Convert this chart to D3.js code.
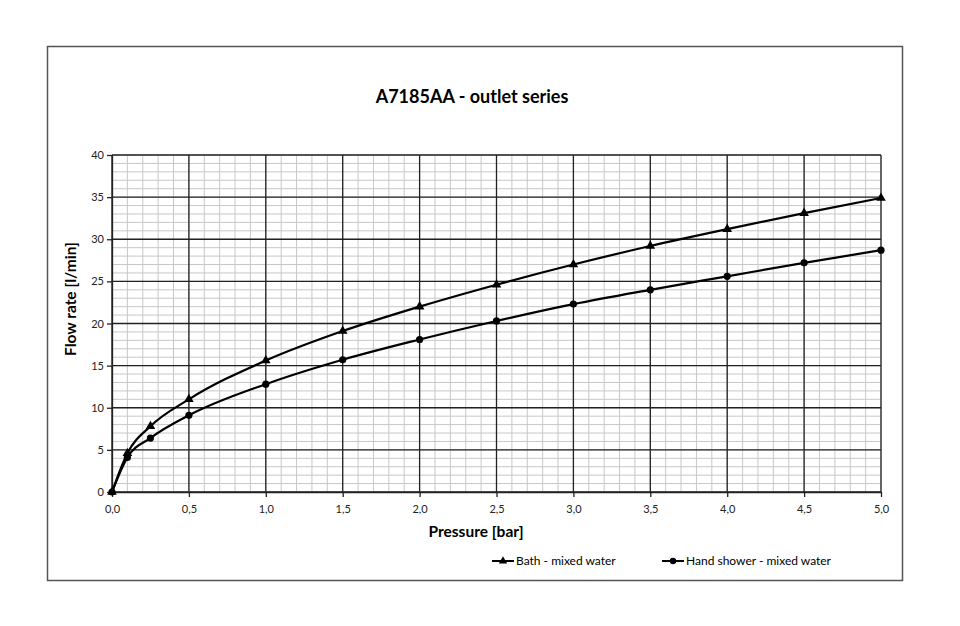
<!DOCTYPE html>
<html>
<head>
<meta charset="utf-8">
<script src="https://cdn.jsdelivr.net/npm/d3@7"></script>
<style>
  body { margin: 0; background: #fff; }
  svg { font-family: Lato, "Open Sans", sans-serif; }
</style>
</head>
<body>
<script>
// pressure points [bar]
var pressure = [0, 0.1, 0.25, 0.5, 1.0, 1.5, 2.0, 2.5, 3.0, 3.5, 4.0, 4.5, 5.0];
// flow rate [l/min]
var bathFlow = [0, 4.6, 7.8, 11.0, 15.6, 19.1, 22.0, 24.6, 27.0, 29.2, 31.2, 33.1, 34.9];
var showerFlow = [0, 4.1, 6.4, 9.1, 12.8, 15.7, 18.1, 20.3, 22.3, 24.0, 25.6, 27.2, 28.7];
var seriesNames = ["Bath - mixed water", "Hand shower - mixed water"];
var xTicks = [0, 0.5, 1.0, 1.5, 2.0, 2.5, 3.0, 3.5, 4.0, 4.5, 5.0];
var yTicks = [0, 5, 10, 15, 20, 25, 30, 35, 40];

var width = 960, height = 626;
var svg = d3.select("body").append("svg")
    .attr("width", width)
    .attr("height", height);

// outer frame
svg.append("rect")
    .attr("x", 47.5).attr("y", 46.5)
    .attr("width", 855).attr("height", 534)
    .attr("fill", "#fff")
    .attr("stroke", "#555")
    .attr("stroke-width", 1.5);

// title
svg.append("text")
    .attr("x", 472).attr("y", 103)
    .attr("text-anchor", "middle")
    .style("font-size", "18px")
    .style("font-weight", "bold")
    .text("A7185AA - outlet series");

var x = d3.scaleLinear().domain([0, 5]).range([112, 881]);
var y = d3.scaleLinear().domain([0, 40]).range([492, 155]);

// minor grid
var minorX = d3.range(0, 51).map(function(i) { return i / 10; });
var minorY = d3.range(0, 41);

svg.append("g").selectAll("line")
    .data(minorX)
    .enter().append("line")
    .attr("x1", function(d) { return x(d); })
    .attr("x2", function(d) { return x(d); })
    .attr("y1", y(0)).attr("y2", y(40))
    .attr("stroke", "#c8c8c8")
    .attr("stroke-width", 1);

svg.append("g").selectAll("line")
    .data(minorY)
    .enter().append("line")
    .attr("y1", function(d) { return y(d); })
    .attr("y2", function(d) { return y(d); })
    .attr("x1", x(0)).attr("x2", x(5))
    .attr("stroke", "#c8c8c8")
    .attr("stroke-width", 1);

// major grid
svg.append("g").selectAll("line")
    .data(xTicks)
    .enter().append("line")
    .attr("x1", function(d) { return x(d); })
    .attr("x2", function(d) { return x(d); })
    .attr("y1", y(0)).attr("y2", y(40))
    .attr("stroke", "#222")
    .attr("stroke-width", 1.3);

svg.append("g").selectAll("line")
    .data(yTicks)
    .enter().append("line")
    .attr("y1", function(d) { return y(d); })
    .attr("y2", function(d) { return y(d); })
    .attr("x1", x(0)).attr("x2", x(5))
    .attr("stroke", "#222")
    .attr("stroke-width", 1.3);

// axes
var fmt = function(d) { return d3.format(".1f")(d).replace(".", ","); };
var xAxis = d3.axisBottom(x).tickValues(xTicks).tickFormat(fmt).tickSize(5).tickSizeOuter(0);
var yAxis = d3.axisLeft(y).tickValues(yTicks).tickSize(5).tickSizeOuter(0);

var gx = svg.append("g")
    .attr("transform", "translate(0," + y(0) + ")")
    .call(xAxis);
var gy = svg.append("g")
    .attr("transform", "translate(" + x(0) + ",0)")
    .call(yAxis);

[gx, gy].forEach(function(g) {
  g.select(".domain").attr("stroke", "#222").attr("stroke-width", 1.3);
  g.selectAll(".tick line").attr("stroke", "#222").attr("stroke-width", 1.3);
  g.selectAll(".tick text")
    .style("font-size", "11px")
    .style("font-family", "Lato, 'Open Sans', sans-serif")
    .attr("fill", "#222");
});
gx.selectAll(".tick text").attr("dy", "1.2em");

// axis titles
svg.append("text")
    .attr("x", 476).attr("y", 537)
    .attr("text-anchor", "middle")
    .style("font-size", "15.5px")
    .style("font-weight", "bold")
    .text("Pressure [bar]");

svg.append("text")
    .attr("transform", "translate(76,299) rotate(-90)")
    .attr("text-anchor", "middle")
    .style("font-size", "15.5px")
    .style("font-weight", "bold")
    .text("Flow rate [l/min]");

// series
var line = d3.line()
    .x(function(d) { return x(d[0]); })
    .y(function(d) { return y(d[1]); })
    .curve(d3.curveMonotoneX);

var bathData = pressure.map(function(p, i) { return [p, bathFlow[i]]; });
var showerData = pressure.map(function(p, i) { return [p, showerFlow[i]]; });

svg.append("path").datum(bathData)
    .attr("fill", "none").attr("stroke", "#000").attr("stroke-width", 2.2)
    .attr("d", line);
svg.append("path").datum(showerData)
    .attr("fill", "none").attr("stroke", "#000").attr("stroke-width", 2.2)
    .attr("d", line);

var tri = d3.symbol().type(d3.symbolTriangle).size(40);

svg.append("g").selectAll("path")
    .data(bathData)
    .enter().append("path")
    .attr("d", tri)
    .attr("transform", function(d) { return "translate(" + x(d[0]) + "," + y(d[1]) + ")"; })
    .attr("fill", "#000");

svg.append("g").selectAll("circle")
    .data(showerData)
    .enter().append("circle")
    .attr("cx", function(d) { return x(d[0]); })
    .attr("cy", function(d) { return y(d[1]); })
    .attr("r", 3.6)
    .attr("fill", "#000");

// legend
var legend = svg.append("g");
var lb = legend.append("g").attr("transform", "translate(492,561)");
lb.append("line").attr("x1", 0).attr("x2", 22).attr("stroke", "#000").attr("stroke-width", 2);
lb.append("path").attr("d", d3.symbol().type(d3.symbolTriangle).size(30)).attr("transform", "translate(11,0)");
lb.append("text").attr("x", 24).attr("dy", "0.35em").style("font-size", "12px").text(seriesNames[0]);

var ls = legend.append("g").attr("transform", "translate(662,561)");
ls.append("line").attr("x1", 0).attr("x2", 22).attr("stroke", "#000").attr("stroke-width", 2);
ls.append("circle").attr("cx", 11).attr("r", 3.2);
ls.append("text").attr("x", 24).attr("dy", "0.35em").style("font-size", "12px").text(seriesNames[1]);
</script>
</body>
</html>
